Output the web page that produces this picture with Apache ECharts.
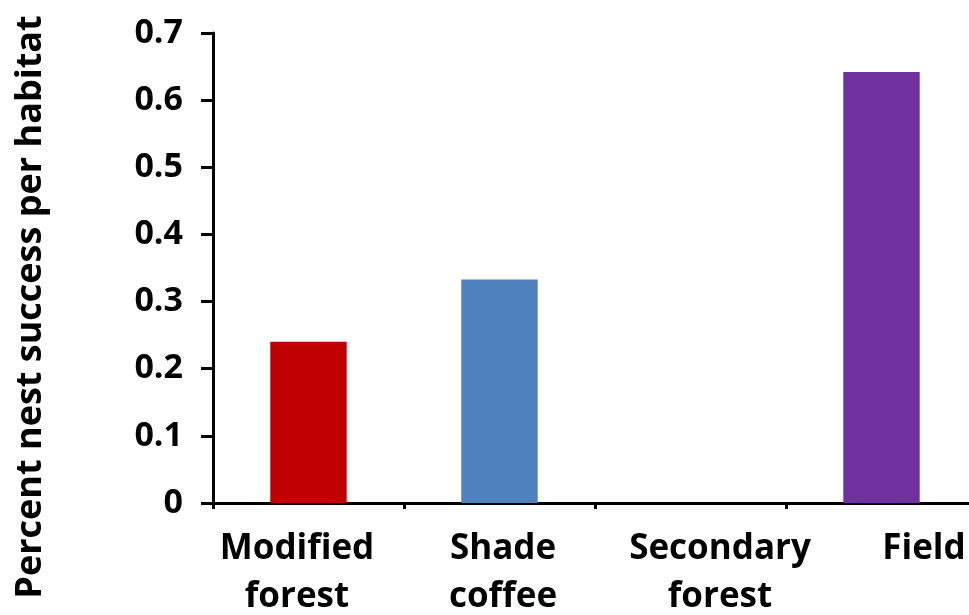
<!DOCTYPE html>
<html>
<head>
<meta charset="utf-8">
<script src="https://cdn.jsdelivr.net/npm/echarts@6/dist/echarts.min.js"></script>
<style>
  html, body { margin: 0; padding: 0; background: #fff; overflow: hidden; }
  #chart { width: 969px; height: 615px; }
</style>
</head>
<body>
<div id="chart"></div>
<script>
// Habitat categories and nest success proportions
const habitats = ['Modified\nforest', 'Shade\ncoffee', 'Secondary\nforest', 'Field'];
const nestSuccess = [0.24, 0.333, 0, 0.642];
const barColors = ['#C00000', '#4F81BD', '#7030A0', '#7030A0'];
const yTicks = { min: 0, max: 0.7, interval: 0.1 };
const yTitle = 'Percent nest success per habitat';

// Horizontal nudges for the category labels (left/right padding, px)
const labelPad = [[0, 23, 0, 0], [0, 0, 0, 7], [0, 0, 0, 59], [0, 0, 0, 85]];

const FONT = '"Open Sans", "DejaVu Sans", sans-serif';

const chart = echarts.init(document.getElementById('chart'), null, { renderer: 'canvas' });

chart.setOption({
  animation: false,
  backgroundColor: '#ffffff',
  grid: {
    left: 213, right: -8, top: 33, bottom: 112,
    containLabel: false,
    outerBoundsMode: 'none'
  },
  xAxis: {
    type: 'category',
    data: habitats.map((h, i) => ({
      value: h,
      textStyle: { padding: labelPad[i] }
    })),
    boundaryGap: true,
    axisLine: { lineStyle: { color: '#000', width: 3 } },
    axisTick: { show: true, length: 6, lineStyle: { color: '#000', width: 3 } },
    axisLabel: {
      interval: 0,
      margin: 22,
      color: '#000',
      fontFamily: FONT,
      fontWeight: 'bold',
      fontSize: 35,
      lineHeight: 48,
      align: 'center',
      hideOverlap: false
    },
    splitLine: { show: false }
  },
  yAxis: {
    type: 'value',
    min: yTicks.min,
    max: yTicks.max,
    interval: yTicks.interval,
    name: yTitle,
    nameLocation: 'middle',
    nameGap: 164,
    nameRotate: 90,
    nameTextStyle: {
      color: '#000',
      fontFamily: FONT,
      fontWeight: 'bold',
      fontSize: 36,
      padding: [0, 78, 0, 0]
    },
    axisLine: { show: true, lineStyle: { color: '#000', width: 3 } },
    axisTick: { show: true, length: 12, inside: false, lineStyle: { color: '#000', width: 3 } },
    axisLabel: {
      margin: 30,
      color: '#000',
      fontFamily: FONT,
      fontWeight: 'bold',
      fontSize: 34,
      formatter: v => (v === 0 ? '0' : v.toFixed(1))
    },
    splitLine: { show: false }
  },
  series: [{
    type: 'bar',
    data: nestSuccess.map((v, i) => ({ value: v, itemStyle: { color: barColors[i] } })),
    barWidth: '40%'
  }]
});
</script>
</body>
</html>
